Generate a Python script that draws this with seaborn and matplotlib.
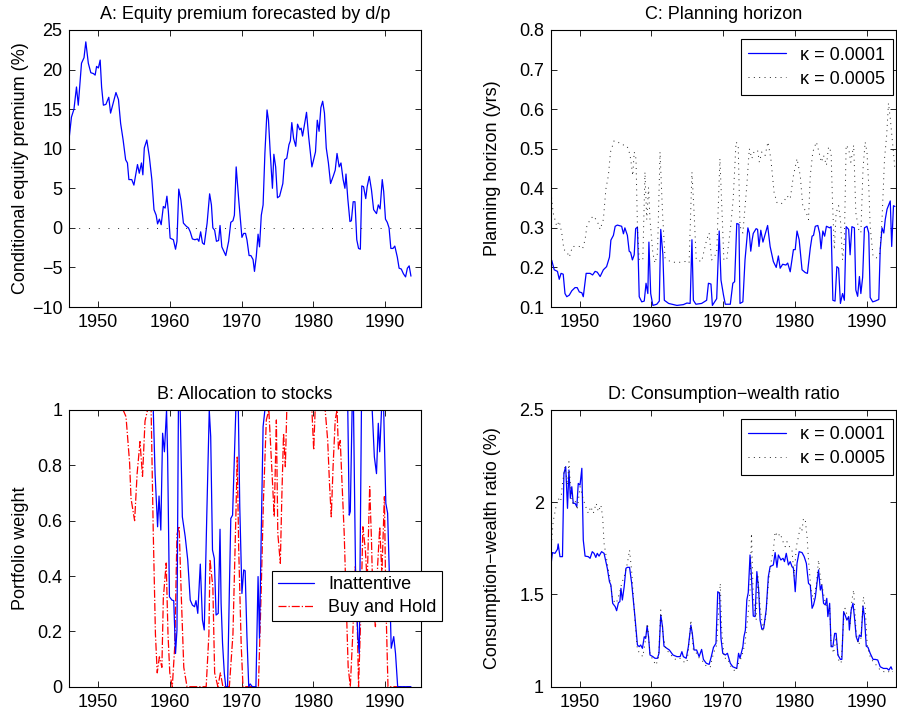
import numpy as np
import pandas as pd
import matplotlib
matplotlib.use("Agg")
import matplotlib.pyplot as plt
import seaborn as sns

# ---------------- data ----------------
# A: conditional equity premium forecast by dividend/price ratio (%)
prem_year = [1946.0, 1946.3, 1946.65, 1947.0, 1947.25, 1947.7, 1948.05, 1948.3, 1948.65, 1949.0,
             1949.35, 1949.6, 1949.8, 1950.05, 1950.3, 1950.5, 1950.75, 1951.1, 1951.5, 1951.75,
             1952.1, 1952.5, 1952.85, 1953.15, 1953.5, 1953.85, 1954.1, 1954.3, 1954.7, 1955.0,
             1955.5, 1955.75, 1956.05, 1956.25, 1956.45, 1956.8, 1957.15, 1957.5, 1957.8, 1958.1,
             1958.3, 1958.55, 1958.8, 1959.1, 1959.35, 1959.6, 1959.8, 1960.05, 1960.5, 1960.8,
             1961.0, 1961.25, 1961.55, 1961.9, 1962.3, 1962.6, 1962.85, 1963.15, 1963.5, 1963.85,
             1964.05, 1964.3, 1964.55, 1964.8, 1965.2, 1965.55, 1965.8, 1966.0, 1966.25, 1966.5,
             1966.8, 1967.0, 1967.25, 1967.8, 1968.2, 1968.5, 1968.8, 1969.0, 1969.25, 1969.6,
             1970.05, 1970.3, 1970.55, 1970.75, 1971.05, 1971.3, 1971.6, 1971.8, 1972.05, 1972.3,
             1972.5, 1972.75, 1973.0, 1973.25, 1973.55, 1973.75, 1974.0, 1974.3, 1974.5, 1974.75,
             1975.0, 1975.3, 1975.75, 1976.0, 1976.3, 1976.6, 1976.8, 1977.0, 1977.25, 1977.55,
             1977.8, 1978.1, 1978.3, 1978.5, 1978.8, 1979.05, 1979.35, 1979.8, 1980.3, 1980.55,
             1980.8, 1981.05, 1981.3, 1981.55, 1981.8, 1982.1, 1982.4, 1982.8, 1983.05, 1983.3,
             1983.6, 1983.85, 1984.15, 1984.4, 1984.55, 1984.8, 1985.1, 1985.3, 1985.55, 1985.8,
             1986.05, 1986.3, 1986.55, 1986.75, 1987.0, 1987.3, 1987.5, 1987.8, 1988.1, 1988.4,
             1988.8, 1989.05, 1989.3, 1989.6, 1989.8, 1990.05, 1990.3, 1990.55, 1990.8, 1991.1,
             1991.35, 1991.7, 1991.95, 1992.25, 1992.55, 1992.85, 1993.1, 1993.35, 1993.6]
prem_value = [11.5, 14.0, 15.0, 17.8, 15.5, 20.8, 21.5, 23.5, 20.8, 19.6,
              19.5, 19.3, 20.4, 20.2, 21.2, 17.8, 15.5, 15.6, 16.5, 14.5,
              15.7, 17.1, 16.2, 13.2, 11.1, 8.6, 8.2, 6.1, 6.1, 5.4,
              8.0, 6.9, 8.2, 6.7, 10.1, 11.1, 9.0, 6.1, 2.3, 1.6,
              0.5, 1.1, 0.4, 2.7, 2.5, 4.0, 2.1, -1.3, -1.5, -2.7,
              -1.7, 4.9, 3.5, 0.6, 0.2, 0.0, -0.5, -1.4, -1.5, -1.4,
              -1.7, -0.5, -1.9, -2.1, 0.6, 4.3, 2.9, 0.0, -0.3, -1.7,
              -1.6, 0.3, -2.4, -3.5, -1.7, 0.7, 0.9, 1.6, 7.7, 3.6,
              -1.2, -0.7, -0.7, -1.5, -3.5, -3.5, -4.0, -5.5, -3.6, -0.8,
              -2.4, 1.6, 2.9, 9.4, 14.9, 13.6, 9.4, 5.0, 9.3, 7.7,
              3.8, 4.0, 5.6, 8.6, 8.8, 10.5, 11.0, 13.3, 11.3, 10.3,
              13.1, 12.4, 12.6, 11.6, 13.2, 14.6, 11.5, 7.7, 9.6, 13.6,
              12.2, 15.2, 16.0, 14.5, 10.1, 8.2, 5.6, 6.6, 7.3, 9.4,
              7.7, 8.2, 6.1, 5.0, 6.8, 3.7, 0.8, 0.9, 3.3, 3.3,
              -1.5, -2.6, -2.7, 5.3, 5.2, 3.7, 5.2, 6.5, 4.8, 2.3,
              1.8, 2.9, 2.4, 6.1, 4.6, 1.1, 0.7, 0.0, -2.6, -2.6,
              -2.3, -3.7, -5.1, -5.2, -5.8, -6.2, -5.1, -4.8, -6.1]

# B: portfolio weight in stocks
inatt_year = [1946.0, 1957.7, 1957.95, 1958.3, 1958.5, 1958.75, 1959.0, 1959.25, 1959.55, 1959.7,
              1959.95, 1960.3, 1960.55, 1960.8, 1961.0, 1961.2, 1961.45, 1961.75, 1962.15, 1962.5,
              1962.85, 1963.15, 1963.45, 1963.65, 1963.9, 1964.25, 1964.55, 1964.8, 1965.15, 1965.5,
              1965.7, 1965.95, 1966.2, 1966.45, 1966.75, 1967.0, 1967.15, 1967.35, 1967.6, 1967.8,
              1968.05, 1968.3, 1968.5, 1968.75, 1969.0, 1969.2, 1969.55, 1969.75, 1970.05, 1970.3,
              1970.5, 1970.75, 1971.0, 1971.2, 1971.5, 1972.0, 1972.3, 1972.5, 1972.75, 1973.0,
              1973.25, 1984.8, 1985.0, 1985.15, 1985.4, 1985.6, 1985.9, 1986.2, 1986.4, 1986.7,
              1988.2, 1988.5, 1988.8, 1989.05, 1989.25, 1989.5, 1989.8, 1990.1, 1990.35, 1990.6,
              1990.85, 1991.2, 1991.45, 1991.75, 1993.6]
inatt_value = [1.0, 1.0, 0.77, 0.578, 0.689, 0.566, 0.916, 0.849, 1.0, 0.831,
               0.325, 0.313, 0.311, 0.12, 0.205, 1.0, 1.0, 0.614, 0.542, 0.458,
               0.313, 0.295, 0.289, 0.311, 0.265, 0.443, 0.241, 0.205, 0.614, 1.0,
               0.904, 0.494, 0.464, 0.259, 0.265, 0.569, 0.301, 0.157, 0.048, 0.0,
               0.0, 0.349, 0.608, 0.62, 0.831, 1.0, 1.0, 0.651, 0.337, 0.422,
               0.419, 0.181, 0.0, 0.01, 0.0, 0.0, 0.398, 0.175, 0.566, 0.94,
               1.0, 1.0, 0.62, 0.633, 1.0, 1.0, 0.373, 0.181, 0.12, 1.0,
               1.0, 0.831, 0.77, 0.952, 0.849, 1.0, 1.0, 0.663, 0.627, 0.398,
               0.139, 0.181, 0.12, 0.0, 0.0]

bh_year = [1946.0, 1953.5, 1953.9, 1954.4, 1954.6, 1955.1, 1955.45, 1955.85, 1956.2, 1956.55,
           1956.9, 1957.4, 1957.7, 1958.0, 1958.25, 1958.55, 1958.9, 1959.1, 1959.5, 1959.75,
           1960.0, 1960.35, 1960.7, 1961.0, 1961.3, 1961.6, 1961.95, 1962.4, 1965.07, 1965.45,
           1965.6, 1966.0, 1966.25, 1966.7, 1967.05, 1967.4, 1968.3, 1968.8, 1969.2, 1969.4,
           1969.6, 1969.95, 1970.2, 1972.35, 1972.7, 1973.05, 1973.45, 1973.8, 1974.2, 1974.55,
           1974.85, 1975.05, 1975.4, 1975.6, 1975.85, 1976.1, 1976.3, 1979.8, 1980.05, 1980.25,
           1981.65, 1982.0, 1982.25, 1982.5, 1982.75, 1983.05, 1983.3, 1983.5, 1983.75, 1984.0,
           1984.3, 1984.6, 1984.85, 1985.15, 1985.5, 1985.85, 1986.1, 1986.3, 1986.65, 1986.9,
           1987.25, 1987.5, 1987.85, 1988.1, 1988.3, 1988.65, 1988.95, 1989.25, 1989.55, 1989.9,
           1990.1, 1990.4, 1993.6]
bh_value = [1.0, 1.0, 0.976, 0.81, 0.68, 0.6, 0.77, 0.886, 0.76, 0.96,
            1.0, 1.0, 0.555, 0.19, 0.05, 0.108, 0.07, 0.32, 0.447, 0.19,
            0.05, 0.0, 0.15, 0.55, 0.58, 0.33, 0.07, 0.0, 0.0, 0.19,
            0.46, 0.36, 0.05, 0.0, 0.05, 0.0, 0.0, 0.19, 0.61, 0.83,
            0.5, 0.15, 0.0, 0.0, 0.313, 0.675, 0.964, 1.0, 0.795, 0.614,
            0.964, 0.554, 0.446, 0.675, 0.916, 0.795, 1.0, 1.0, 0.855, 1.0,
            1.0, 0.89, 0.735, 0.614, 0.795, 0.964, 1.0, 0.855, 0.89, 0.735,
            0.554, 0.289, 0.072, 0.0, 0.193, 0.434, 0.253, 0.0, 0.289, 0.578,
            0.494, 0.373, 0.723, 0.53, 0.313, 0.217, 0.434, 0.578, 0.41, 0.687,
            0.313, 0.0, 0.0]

# C: planning horizon (years)
hor1_year = [1946.1, 1946.45, 1946.9, 1947.15, 1947.4, 1947.7, 1947.95, 1948.2, 1948.55, 1948.9,
             1949.35, 1949.65, 1949.95, 1950.3, 1950.5, 1950.9, 1951.45, 1951.8, 1952.15, 1952.45,
             1952.85, 1953.3, 1953.75, 1954.15, 1954.35, 1954.7, 1954.95, 1955.25, 1955.85, 1956.1,
             1956.3, 1956.65, 1956.9, 1957.1, 1957.35, 1957.6, 1957.8, 1958.05, 1958.3, 1958.65,
             1959.0, 1959.25, 1959.5, 1959.65, 1959.9, 1960.2, 1960.75, 1961.1, 1961.3, 1961.6,
             1961.8, 1962.4, 1963.55, 1964.45, 1964.95, 1965.4, 1965.65, 1965.85, 1966.2, 1967.0,
             1967.7, 1967.95, 1968.3, 1968.5, 1969.1, 1969.45, 1969.7, 1970.05, 1970.3, 1971.0,
             1971.35, 1971.6, 1971.9, 1972.2, 1972.35, 1972.75, 1973.05, 1973.45, 1973.65, 1973.85,
             1974.05, 1974.2, 1974.6, 1974.8, 1975.0, 1975.25, 1975.55, 1975.85, 1976.2, 1976.55,
             1977.0, 1977.4, 1977.7, 1977.95, 1978.3, 1978.75, 1979.0, 1979.35, 1979.8, 1980.05,
             1980.3, 1980.6, 1981.0, 1981.45, 1981.75, 1982.15, 1982.4, 1982.6, 1982.85, 1983.2,
             1983.45, 1983.65, 1983.9, 1984.15, 1984.4, 1984.85, 1985.05, 1985.3, 1985.6, 1985.85,
             1986.1, 1986.35, 1986.65, 1986.9, 1987.15, 1987.5, 1987.7, 1987.95, 1988.3, 1988.5,
             1988.75, 1989.0, 1989.2, 1989.45, 1989.7, 1990.05, 1990.3, 1990.5, 1990.85, 1991.2,
             1991.7, 1991.9, 1992.15, 1992.4, 1992.6, 1992.85, 1993.05, 1993.3, 1993.5, 1993.75,
             1993.95]
hor1_value = [0.218, 0.194, 0.19, 0.17, 0.185, 0.183, 0.134, 0.126, 0.13, 0.141,
              0.149, 0.149, 0.138, 0.136, 0.126, 0.185, 0.185, 0.181, 0.19, 0.188,
              0.177, 0.194, 0.202, 0.226, 0.269, 0.281, 0.304, 0.307, 0.304, 0.285,
              0.3, 0.281, 0.241, 0.238, 0.219, 0.232, 0.298, 0.302, 0.126, 0.113,
              0.115, 0.16, 0.134, 0.264, 0.134, 0.104, 0.107, 0.115, 0.296, 0.232,
              0.117, 0.109, 0.104, 0.106, 0.11, 0.109, 0.27, 0.117, 0.107, 0.109,
              0.117, 0.16, 0.158, 0.104, 0.121, 0.292, 0.168, 0.13, 0.107, 0.107,
              0.16, 0.164, 0.311, 0.309, 0.109, 0.113, 0.219, 0.3, 0.287, 0.241,
              0.27, 0.286, 0.298, 0.296, 0.253, 0.294, 0.264, 0.283, 0.306, 0.253,
              0.215, 0.2, 0.229, 0.198, 0.208, 0.206, 0.211, 0.189, 0.245, 0.245,
              0.292, 0.27, 0.194, 0.187, 0.185, 0.249, 0.279, 0.281, 0.304, 0.306,
              0.287, 0.247, 0.292, 0.279, 0.304, 0.3, 0.303, 0.117, 0.115, 0.202,
              0.198, 0.109, 0.134, 0.117, 0.303, 0.296, 0.232, 0.303, 0.3, 0.143,
              0.127, 0.177, 0.134, 0.175, 0.3, 0.304, 0.287, 0.124, 0.113, 0.115,
              0.119, 0.245, 0.3, 0.287, 0.321, 0.347, 0.356, 0.368, 0.253, 0.356,
              0.354]

hor5_year = [1946.0, 1946.3, 1946.8, 1947.15, 1947.5, 1947.8, 1948.2, 1948.55, 1949.0, 1949.6,
             1949.95, 1950.4, 1950.75, 1951.0, 1951.45, 1951.9, 1952.45, 1952.85, 1953.3, 1953.65,
             1954.0, 1954.3, 1954.8, 1955.4, 1955.85, 1956.45, 1956.8, 1957.1, 1957.4, 1957.6,
             1957.85, 1958.05, 1958.3, 1958.8, 1959.1, 1959.35, 1959.6, 1959.8, 1960.2, 1960.5,
             1960.85, 1961.2, 1961.55, 1961.9, 1962.6, 1963.55, 1964.7, 1965.25, 1965.65, 1965.95,
             1966.25, 1967.0, 1967.7, 1968.05, 1968.4, 1969.1, 1969.55, 1969.85, 1970.1, 1970.5,
             1971.05, 1971.4, 1971.8, 1972.1, 1972.35, 1972.75, 1973.3, 1973.65, 1974.0, 1974.3,
             1974.8, 1975.05, 1975.4, 1975.85, 1976.25, 1976.65, 1977.1, 1977.5, 1977.95, 1978.4,
             1978.9, 1979.35, 1979.8, 1980.3, 1980.75, 1981.1, 1981.6, 1981.9, 1982.15, 1982.5,
             1983.0, 1983.3, 1983.7, 1984.0, 1984.4, 1984.7, 1985.05, 1985.25, 1985.5, 1985.75,
             1986.1, 1986.35, 1986.65, 1986.9, 1987.15, 1987.5, 1987.8, 1988.2, 1988.5, 1988.9,
             1989.2, 1989.5, 1989.8, 1990.05, 1990.3, 1990.5, 1990.9, 1991.35, 1991.85, 1992.15,
             1992.5, 1992.8, 1993.05, 1993.3, 1993.65, 1993.95]
hor5_value = [0.39, 0.338, 0.304, 0.317, 0.287, 0.245, 0.24, 0.226, 0.253, 0.253,
              0.253, 0.247, 0.27, 0.304, 0.321, 0.33, 0.317, 0.296, 0.321, 0.398,
              0.432, 0.492, 0.52, 0.516, 0.51, 0.509, 0.5, 0.475, 0.432, 0.492,
              0.475, 0.304, 0.219, 0.219, 0.441, 0.321, 0.402, 0.321, 0.236, 0.211,
              0.236, 0.492, 0.338, 0.224, 0.215, 0.212, 0.215, 0.211, 0.441, 0.338,
              0.219, 0.215, 0.27, 0.287, 0.219, 0.236, 0.475, 0.338, 0.219, 0.219,
              0.304, 0.373, 0.517, 0.509, 0.304, 0.287, 0.407, 0.5, 0.475, 0.492,
              0.496, 0.466, 0.492, 0.483, 0.517, 0.475, 0.39, 0.364, 0.36, 0.364,
              0.381, 0.373, 0.432, 0.475, 0.432, 0.356, 0.338, 0.321, 0.432, 0.492,
              0.517, 0.496, 0.466, 0.483, 0.458, 0.505, 0.492, 0.364, 0.245, 0.338,
              0.356, 0.321, 0.219, 0.27, 0.509, 0.5, 0.466, 0.509, 0.338, 0.296,
              0.287, 0.449, 0.517, 0.492, 0.407, 0.304, 0.228, 0.224, 0.236, 0.321,
              0.475, 0.534, 0.615, 0.577, 0.509, 0.449]

# D: consumption-wealth ratio (%)
cw1_year = [1946.0, 1946.2, 1946.55, 1946.9, 1947.0, 1947.25, 1947.6, 1947.8, 1948.05, 1948.3,
            1948.5, 1948.7, 1948.9, 1949.1, 1949.35, 1949.6, 1949.8, 1950.05, 1950.3, 1950.5,
            1950.75, 1951.2, 1951.45, 1951.75, 1952.0, 1952.25, 1952.45, 1952.7, 1953.05, 1953.4,
            1953.7, 1953.85, 1954.15, 1954.35, 1954.6, 1954.95, 1955.15, 1955.4, 1955.6, 1955.75,
            1955.95, 1956.2, 1956.45, 1956.65, 1956.95, 1957.25, 1957.7, 1958.05, 1958.3, 1958.5,
            1958.75, 1959.0, 1959.2, 1959.4, 1959.6, 1959.8, 1960.2, 1960.5, 1960.85, 1961.05,
            1961.3, 1961.55, 1961.75, 1962.15, 1962.5, 1963.0, 1963.55, 1964.0, 1964.25, 1964.45,
            1964.85, 1965.15, 1965.5, 1965.7, 1965.95, 1966.3, 1966.65, 1967.0, 1967.25, 1967.65,
            1968.05, 1968.35, 1968.65, 1969.0, 1969.25, 1969.5, 1969.7, 1969.95, 1970.3, 1970.6,
            1971.0, 1971.35, 1971.9, 1972.15, 1972.35, 1972.75, 1972.9, 1973.1, 1973.3, 1973.5,
            1973.75, 1973.95, 1974.2, 1974.45, 1974.7, 1974.95, 1975.15, 1975.4, 1975.65, 1976.0,
            1976.3, 1976.55, 1977.0, 1977.25, 1977.5, 1977.7, 1978.05, 1978.35, 1978.55, 1978.8,
            1979.1, 1979.35, 1979.6, 1979.8, 1980.05, 1980.3, 1980.6, 1981.0, 1981.3, 1981.6,
            1981.9, 1982.15, 1982.4, 1982.6, 1982.85, 1983.05, 1983.3, 1983.55, 1983.75, 1984.0,
            1984.25, 1984.45, 1984.6, 1984.85, 1985.05, 1985.3, 1985.55, 1985.75, 1986.0, 1986.35,
            1986.55, 1986.8, 1987.0, 1987.25, 1987.5, 1987.6, 1987.85, 1988.1, 1988.3, 1988.55,
            1988.8, 1989.0, 1989.25, 1989.5, 1989.7, 1989.95, 1990.2, 1990.5, 1990.9, 1991.2,
            1991.55, 1991.9, 1992.35, 1992.85, 1993.1, 1993.4, 1993.55]
cw1_value = [1.66, 1.727, 1.723, 1.745, 1.774, 1.705, 1.705, 2.157, 2.193, 1.967,
             2.175, 2.021, 2.084, 1.994, 1.994, 1.976, 2.102, 2.093, 2.184, 1.795,
             1.708, 1.705, 1.696, 1.732, 1.723, 1.701, 1.723, 1.708, 1.732, 1.723,
             1.669, 1.642, 1.569, 1.551, 1.452, 1.434, 1.412, 1.455, 1.461, 1.533,
             1.47, 1.542, 1.642, 1.647, 1.647, 1.56, 1.38, 1.226, 1.217, 1.226,
             1.208, 1.271, 1.262, 1.329, 1.271, 1.172, 1.163, 1.154, 1.154, 1.181,
             1.389, 1.325, 1.22, 1.208, 1.199, 1.172, 1.163, 1.163, 1.19, 1.163,
             1.154, 1.217, 1.334, 1.289, 1.199, 1.199, 1.163, 1.202, 1.148, 1.127,
             1.121, 1.163, 1.213, 1.235, 1.515, 1.506, 1.262, 1.181, 1.172, 1.181,
             1.127, 1.108, 1.099, 1.181, 1.154, 1.217, 1.271, 1.307, 1.47, 1.51,
             1.714, 1.596, 1.383, 1.38, 1.624, 1.524, 1.361, 1.311, 1.316, 1.416,
             1.596, 1.651, 1.66, 1.727, 1.647, 1.714, 1.687, 1.696, 1.678, 1.723,
             1.66, 1.678, 1.651, 1.642, 1.515, 1.669, 1.732, 1.727, 1.705, 1.669,
             1.56, 1.551, 1.425, 1.443, 1.484, 1.551, 1.633, 1.524, 1.551, 1.452,
             1.443, 1.479, 1.38, 1.452, 1.217, 1.217, 1.289, 1.289, 1.172, 1.148,
             1.148, 1.407, 1.389, 1.361, 1.38, 1.307, 1.416, 1.452, 1.38, 1.271,
             1.244, 1.28, 1.271, 1.437, 1.38, 1.22, 1.213, 1.181, 1.148, 1.148,
             1.145, 1.108, 1.099, 1.099, 1.09, 1.108, 1.094]

cw5_year = [1946.1, 1946.3, 1946.7, 1947.0, 1947.35, 1947.6, 1947.95, 1948.3, 1948.5, 1948.75,
            1949.0, 1949.35, 1949.65, 1950.05, 1950.4, 1950.75, 1951.2, 1951.55, 1951.9, 1952.3,
            1952.6, 1952.95, 1953.2, 1953.4, 1953.7, 1954.15, 1954.6, 1955.1, 1955.55, 1955.85,
            1956.2, 1956.65, 1956.95, 1957.25, 1957.7, 1958.05, 1958.4, 1958.8, 1959.1, 1959.45,
            1959.8, 1960.2, 1960.65, 1961.0, 1961.3, 1961.65, 1962.05, 1962.6, 1963.05, 1963.55,
            1964.0, 1964.45, 1964.95, 1965.15, 1965.5, 1965.85, 1966.3, 1966.8, 1967.25, 1967.7,
            1968.2, 1968.65, 1969.1, 1969.6, 1969.8, 1970.15, 1970.6, 1971.05, 1971.7, 1972.15,
            1972.6, 1973.05, 1973.45, 1973.75, 1973.95, 1974.2, 1974.6, 1974.85, 1975.15, 1975.55,
            1975.95, 1976.3, 1976.65, 1977.0, 1977.25, 1977.6, 1977.95, 1978.35, 1978.65, 1978.9,
            1979.25, 1979.6, 1979.9, 1980.2, 1980.5, 1980.75, 1981.0, 1981.2, 1981.45, 1981.7,
            1981.9, 1982.25, 1982.6, 1983.0, 1983.3, 1983.55, 1983.9, 1984.25, 1984.6, 1984.85,
            1985.05, 1985.4, 1985.75, 1986.1, 1986.45, 1986.8, 1987.0, 1987.35, 1987.7, 1987.95,
            1988.2, 1988.55, 1988.9, 1989.2, 1989.55, 1989.8, 1990.1, 1990.5, 1990.9, 1991.35,
            1991.9, 1992.45, 1992.9, 1993.4, 1993.65]
cw5_value = [1.795, 1.895, 1.976, 2.021, 2.003, 2.102, 2.193, 2.093, 2.22, 2.066,
             1.994, 2.012, 1.958, 2.084, 2.03, 1.985, 1.94, 1.976, 1.94, 1.994,
             1.949, 1.985, 1.922, 1.777, 1.705, 1.596, 1.47, 1.452, 1.506, 1.56,
             1.596, 1.669, 1.741, 1.624, 1.361, 1.199, 1.181, 1.163, 1.235, 1.343,
             1.181, 1.145, 1.117, 1.163, 1.416, 1.271, 1.199, 1.181, 1.154, 1.145,
             1.154, 1.136, 1.13, 1.199, 1.361, 1.199, 1.181, 1.145, 1.136, 1.108,
             1.108, 1.181, 1.226, 1.56, 1.307, 1.154, 1.154, 1.112, 1.081, 1.127,
             1.163, 1.235, 1.38, 1.524, 1.831, 1.488, 1.361, 1.596, 1.434, 1.307,
             1.38, 1.56, 1.669, 1.741, 1.84, 1.813, 1.831, 1.786, 1.759, 1.786,
             1.759, 1.741, 1.596, 1.759, 1.813, 1.868, 1.849, 1.913, 1.904, 1.813,
             1.687, 1.524, 1.47, 1.56, 1.687, 1.596, 1.524, 1.452, 1.434, 1.434,
             1.235, 1.181, 1.271, 1.145, 1.127, 1.361, 1.425, 1.38, 1.343, 1.47,
             1.524, 1.289, 1.226, 1.262, 1.488, 1.434, 1.217, 1.163, 1.136, 1.117,
             1.09, 1.081, 1.076, 1.09, 1.081]

year_ticks = [1950, 1960, 1970, 1980, 1990]

# ---------------- style ----------------
sns.set_theme(style="ticks", rc={
    "xtick.direction": "in", "ytick.direction": "in",
    "xtick.top": True, "ytick.right": True,
    "xtick.major.size": 4, "ytick.major.size": 4,
    "xtick.major.width": 0.6, "ytick.major.width": 0.6,
    "axes.linewidth": 0.8, "axes.edgecolor": "black",
    "xtick.color": "black", "ytick.color": "black",
    "text.color": "black", "axes.labelcolor": "black",
})
plt.rcParams["font.family"] = ["Liberation Sans", "DejaVu Sans"]
FS = 13
plt.rcParams["font.size"] = FS

W, H = 897, 718
fig = plt.figure(figsize=(W / 100, H / 100), dpi=100)


def place(left, top, right, bottom):
    return fig.add_axes([left / W, 1 - bottom / H, (right - left) / W, (bottom - top) / H])


axA = place(69.3, 30, 421, 307)
axC = place(551, 30, 896, 307)
axB = place(69.3, 410, 421, 686.7)
axD = place(551, 410, 896, 686.7)

LW = 0.9
dot_sparse = (0, (1, 4.5))
DOT_COLOR = "#222222"


def line(ax, xs, ys, **kw):
    df = pd.DataFrame({"year": xs, "value": ys})
    sns.lineplot(data=df, x="year", y="value", ax=ax, estimator=None, sort=False, **kw)


def boxed_legend(leg):
    leg.get_frame().set_linewidth(0.8)
    leg.get_frame().set_edgecolor("black")


# A
line(axA, prem_year, prem_value, color="blue", linewidth=LW)
line(axA, [prem_year[0], prem_year[-1]], [0, 0], color=DOT_COLOR, linewidth=0.7, linestyle=(0, (1, 9)))
axA.set_xlim(1946, 1995)
axA.set_ylim(-10, 25)
axA.set_yticks(np.arange(-10, 26, 5))
axA.set_ylabel("Conditional equity premium (%)", fontsize=FS)
axA.set_title("A: Equity premium forecasted by d/p", fontsize=FS, pad=8)

# B
line(axB, bh_year, bh_value, color="red", linewidth=LW, linestyle="-.", label="Buy and Hold")
line(axB, inatt_year, inatt_value, color="blue", linewidth=LW, label="Inattentive")
axB.set_xlim(1946, 1995)
axB.set_ylim(0, 1)
axB.set_yticks([0, 0.2, 0.4, 0.6, 0.8, 1.0])
axB.set_yticklabels(["0", "0.2", "0.4", "0.6", "0.8", "1"])
axB.set_ylabel("Portfolio weight", fontsize=FS)
axB.set_title("B: Allocation to stocks", fontsize=FS, pad=8)
hB, lB = axB.get_legend_handles_labels()
order = [lB.index("Inattentive"), lB.index("Buy and Hold")]
legB = axB.legend([hB[i] for i in order], [lB[i] for i in order], loc="upper left",
                  bbox_to_anchor=(0.577, 0.418), borderaxespad=0, fancybox=False,
                  framealpha=1, fontsize=FS, handlelength=2.0,
                  handletextpad=0.8, labelspacing=0.3, borderpad=0.3)
boxed_legend(legB)

# C
line(axC, hor1_year, hor1_value, color="blue", linewidth=LW, label="κ = 0.0001")
line(axC, hor5_year, hor5_value, color=DOT_COLOR, linewidth=0.7, linestyle=dot_sparse, label="κ = 0.0005")
axC.set_xlim(1946, 1994.1)
axC.set_ylim(0.1, 0.8)
axC.set_yticks(np.arange(0.1, 0.81, 0.1))
axC.set_yticklabels([f"{v:.1f}" for v in np.arange(0.1, 0.81, 0.1)])
axC.set_ylabel("Planning horizon (yrs)", fontsize=FS)
axC.set_title("C: Planning horizon", fontsize=FS, pad=8)
legC = axC.legend(loc="upper right", bbox_to_anchor=(0.9904, 0.9664), borderaxespad=0,
                  fancybox=False, framealpha=1, fontsize=FS,
                  handlelength=2.1, handletextpad=0.8, labelspacing=0.4, borderpad=0.4)
boxed_legend(legC)

# D
line(axD, cw1_year, cw1_value, color="blue", linewidth=LW, label="κ = 0.0001")
line(axD, cw5_year, cw5_value, color=DOT_COLOR, linewidth=0.7, linestyle=dot_sparse, label="κ = 0.0005")
axD.set_xlim(1946, 1994.1)
axD.set_ylim(1, 2.5)
axD.set_yticks([1, 1.5, 2, 2.5])
axD.set_yticklabels(["1", "1.5", "2", "2.5"])
axD.set_ylabel("Consumption\u2212wealth ratio (%)", fontsize=FS)
axD.set_title("D: Consumption\u2212wealth ratio", fontsize=FS, pad=8)
legD = axD.legend(loc="upper right", bbox_to_anchor=(0.9904, 0.9675), borderaxespad=0,
                  fancybox=False, framealpha=1, fontsize=FS,
                  handlelength=2.1, handletextpad=0.8, labelspacing=0.4, borderpad=0.4)
boxed_legend(legD)

for ax in (axA, axB, axC, axD):
    ax.set_xticks(year_ticks)
    ax.set_xlabel("")
    ax.tick_params(labelsize=FS, pad=5)
    for s in ax.spines.values():
        s.set_visible(True)
        s.set_color("black")

# y-label positions (axes fraction) so left and right columns line up
for ax in (axA, axB):
    ax.yaxis.set_label_coords(-0.1146, 0.5)
for ax in (axC, axD):
    ax.yaxis.set_label_coords(-0.1449, 0.5)

fig.savefig("out.png", dpi=100, facecolor="white")
